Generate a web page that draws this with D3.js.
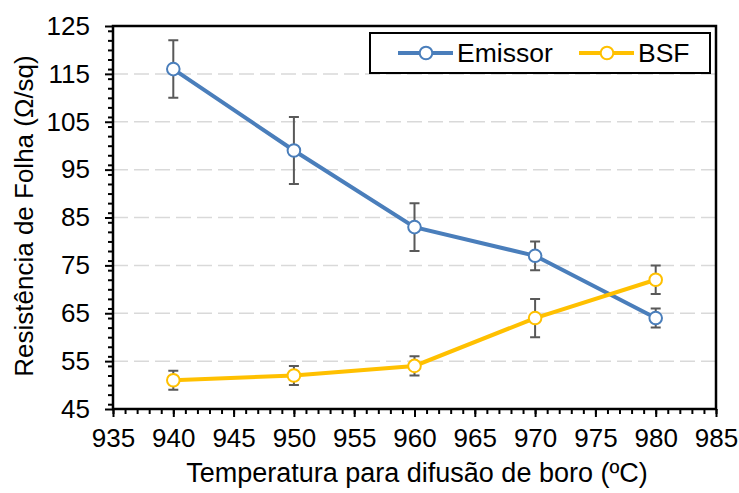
<!DOCTYPE html>
<html>
<head>
<meta charset="utf-8">
<script src="https://cdn.jsdelivr.net/npm/d3@7"></script>
<style>
  body { margin: 0; background: #fff; }
  text { font-family: "Liberation Sans", Arial, sans-serif; fill: #000; }
</style>
</head>
<body>
<script>
// data
var temps = [940, 950, 960, 970, 980]
var emissor = [116, 99, 83, 77, 64]
var emissorLo = [110, 92, 78, 74, 62]
var emissorHi = [122, 106, 88, 80, 66]
var bsf = [51, 52, 54, 64, 72]
var bsfLo = [49, 50, 52, 60, 69]
var bsfHi = [53, 54, 56, 68, 75]
var xTicks = [935, 940, 945, 950, 955, 960, 965, 970, 975, 980, 985]
var yTicks = [45, 55, 65, 75, 85, 95, 105, 115, 125]

var width = 739, height = 493
var pLeft = 113, pRight = 716, pTop = 26, pBottom = 409

var svg = d3.select("body").append("svg")
  .attr("width", width)
  .attr("height", height)

var x = d3.scaleLinear().domain([935, 985]).range([pLeft, pRight])
var y = d3.scaleLinear().domain([45, 125]).range([pBottom, pTop])

// dashed grid
svg.append("g")
  .selectAll("line")
  .data(yTicks.slice(1, -1))
  .enter().append("line")
    .attr("x1", pLeft).attr("x2", pRight)
    .attr("y1", function(d) { return y(d) }).attr("y2", function(d) { return y(d) })
    .style("stroke", "#d9d9d9")
    .style("stroke-width", 1.5)
    .style("stroke-dasharray", "15,6")

// minor ticks
svg.append("g")
  .attr("transform", "translate(0," + pBottom + ")")
  .call(d3.axisBottom(x).ticks(50).tickSize(5).tickFormat(""))
  .call(function(g) { g.select(".domain").remove() })
  .selectAll("line").style("stroke-width", 2)
svg.append("g")
  .attr("transform", "translate(" + pLeft + ",0)")
  .call(d3.axisLeft(y).ticks(40).tickSize(5).tickFormat(""))
  .call(function(g) { g.select(".domain").remove() })
  .selectAll("line").style("stroke-width", 2)

// major axes
var xAxis = svg.append("g")
  .attr("transform", "translate(0," + pBottom + ")")
  .call(d3.axisBottom(x).tickValues(xTicks).tickSize(8).tickPadding(12).tickSizeOuter(0))
var yAxis = svg.append("g")
  .attr("transform", "translate(" + pLeft + ",0)")
  .call(d3.axisLeft(y).tickValues(yTicks).tickSize(8).tickPadding(15).tickSizeOuter(0))
;[xAxis, yAxis].forEach(function(g) {
  g.selectAll("line").style("stroke-width", 2)
  g.select(".domain").remove()
  g.selectAll("text").style("font-size", "26px").style("font-family", "Liberation Sans, Arial, sans-serif")
})

// plot frame
svg.append("rect")
  .attr("x", pLeft).attr("y", pTop)
  .attr("width", pRight - pLeft).attr("height", pBottom - pTop)
  .style("fill", "none")
  .style("stroke", "#000")
  .style("stroke-width", 2.5)

function drawSeries(vals, lo, hi, color) {
  var pts = temps.map(function(t, i) { return { t: t, v: vals[i], lo: lo[i], hi: hi[i] } })
  var g = svg.append("g")
  // error bars
  g.selectAll(".eb").data(pts).enter().append("path")
    .attr("d", function(d) {
      var cx = x(d.t), y1 = y(d.hi), y2 = y(d.lo)
      return "M" + cx + "," + y1 + "V" + y2 +
        "M" + (cx - 5) + "," + y1 + "H" + (cx + 5) +
        "M" + (cx - 5) + "," + y2 + "H" + (cx + 5)
    })
    .style("stroke", "#595959").style("stroke-width", 2).style("fill", "none")
  g.append("path")
    .datum(pts)
    .attr("d", d3.line().x(function(d) { return x(d.t) }).y(function(d) { return y(d.v) }))
    .style("fill", "none").style("stroke", color).style("stroke-width", 4)
  g.selectAll("circle").data(pts).enter().append("circle")
    .attr("cx", function(d) { return x(d.t) })
    .attr("cy", function(d) { return y(d.v) })
    .attr("r", 6.3)
    .style("fill", "#fff").style("stroke", color).style("stroke-width", 2)
}
drawSeries(emissor, emissorLo, emissorHi, "#4a7ebb")
drawSeries(bsf, bsfLo, bsfHi, "#ffc000")

// legend
var leg = svg.append("g")
leg.append("rect")
  .attr("x", 370).attr("y", 33).attr("width", 340).attr("height", 40)
  .style("fill", "#fff").style("stroke", "#000").style("stroke-width", 2)
var items = [["Emissor", "#4a7ebb", 398], ["BSF", "#ffc000", 579]]
items.forEach(function(it) {
  leg.append("line").attr("x1", it[2]).attr("x2", it[2] + 55).attr("y1", 53).attr("y2", 53)
    .style("stroke", it[1]).style("stroke-width", 4)
  leg.append("circle").attr("cx", it[2] + 28).attr("cy", 53).attr("r", 6.3)
    .style("fill", "#fff").style("stroke", it[1]).style("stroke-width", 2)
  leg.append("text").attr("x", it[2] + 59).attr("y", 62).text(it[0]).style("font-size", "26.5px")
})

// axis titles
svg.append("text")
  .attr("x", 417).attr("y", 482)
  .attr("text-anchor", "middle")
  .style("font-size", "27px")
  .text("Temperatura para difusão de boro (ºC)")
svg.append("text")
  .attr("transform", "translate(33,216) rotate(-90)")
  .attr("text-anchor", "middle")
  .style("font-size", "26px")
  .text("Resistência de Folha (Ω/sq)")
</script>
</body>
</html>
